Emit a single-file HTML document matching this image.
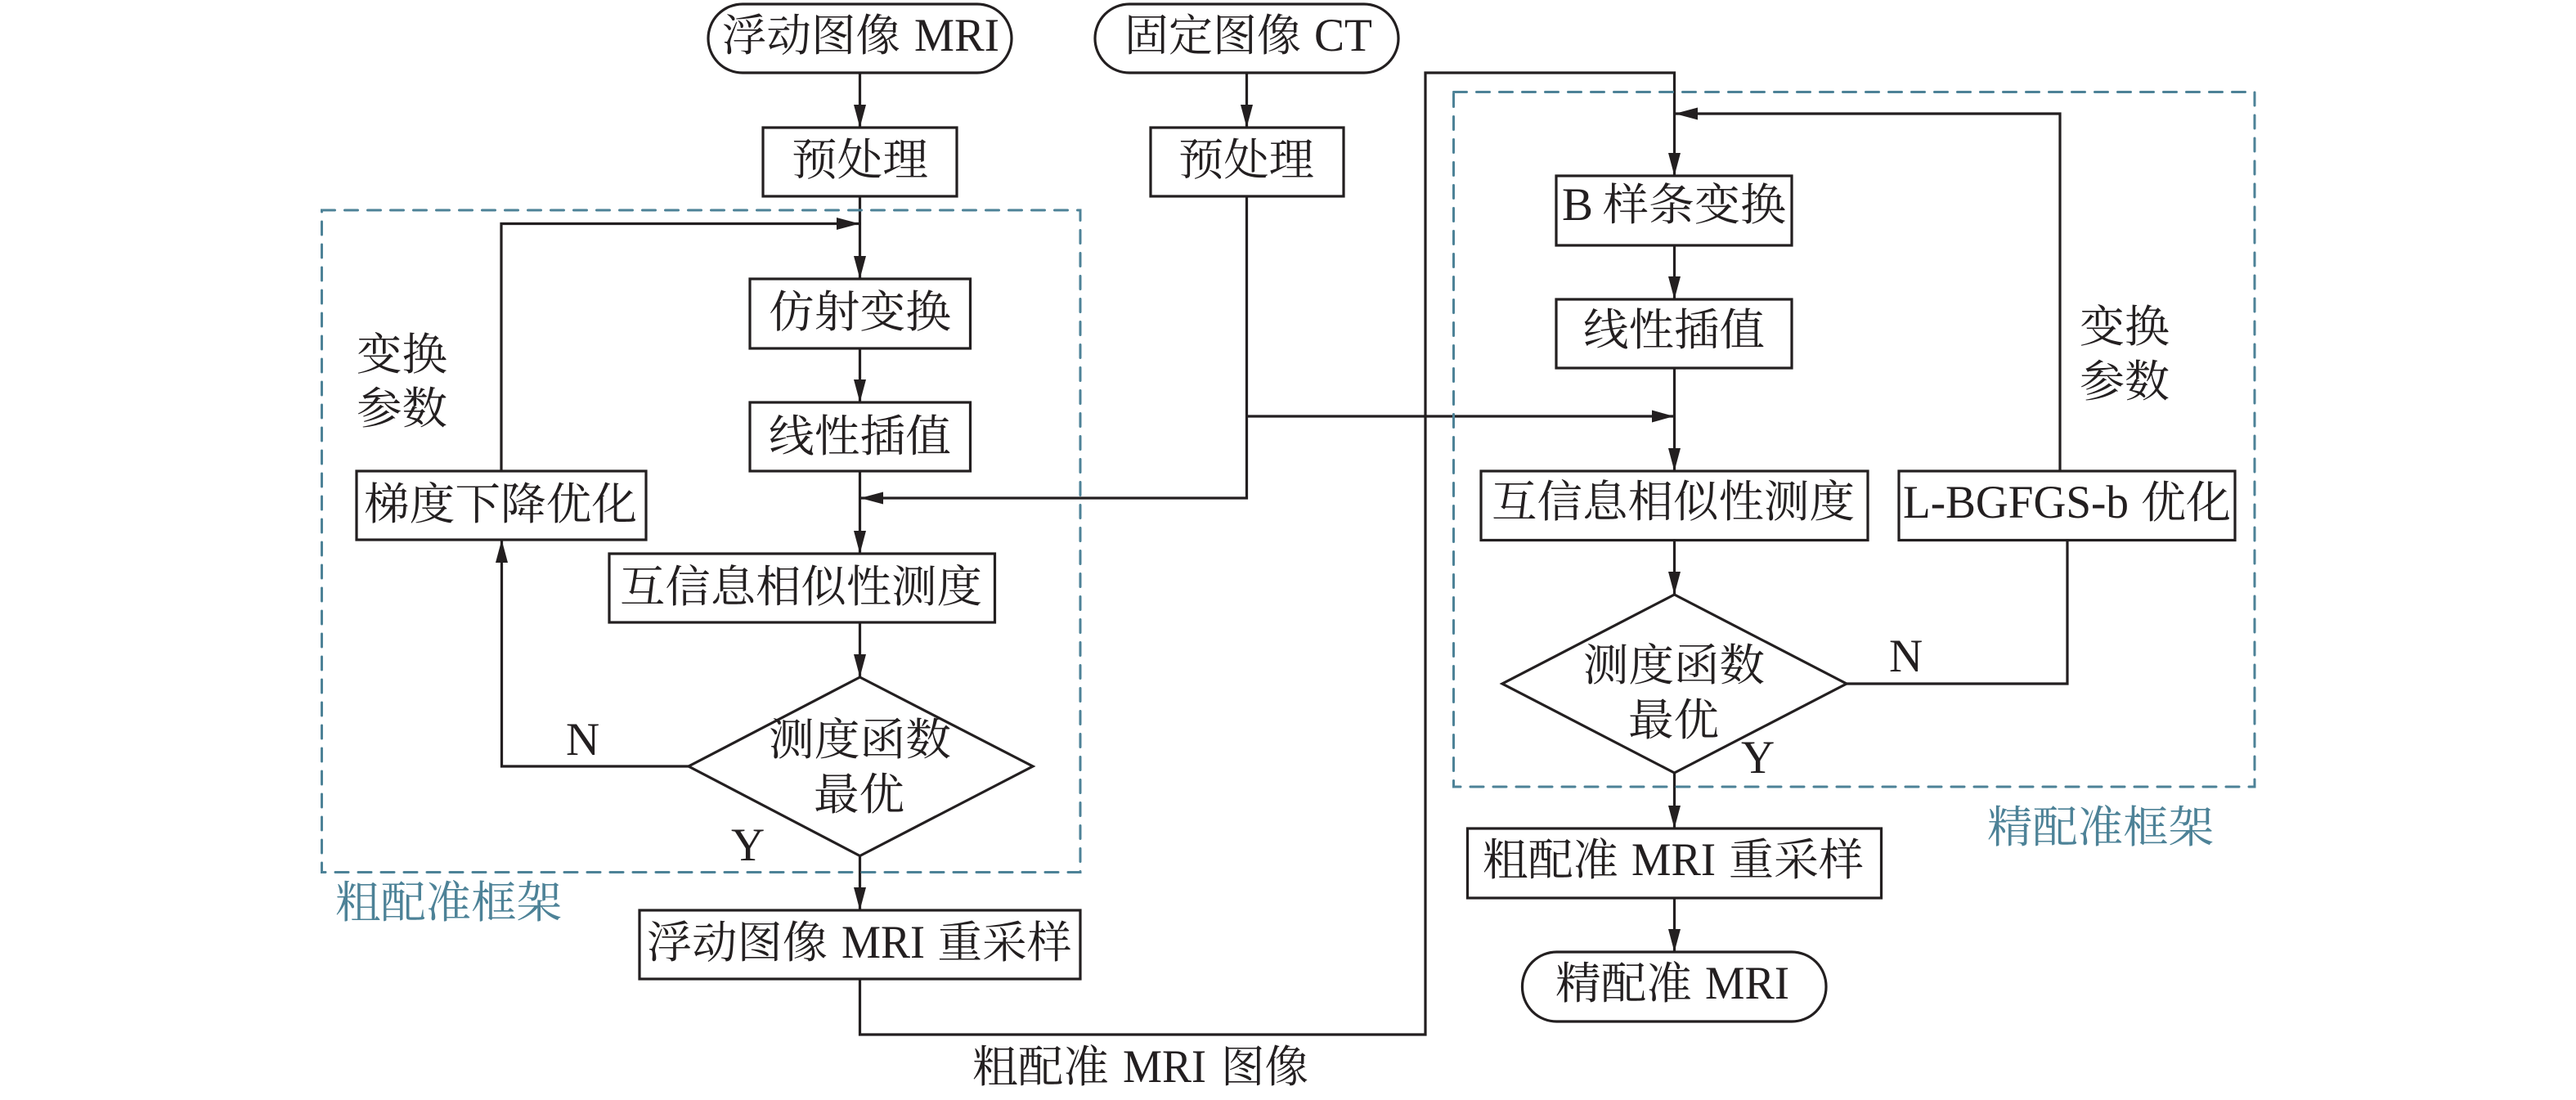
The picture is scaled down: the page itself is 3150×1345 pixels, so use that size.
<!DOCTYPE html>
<html lang="zh">
<head>
<meta charset="utf-8">
<title>配准流程图</title>
<style>
html,body{margin:0;padding:0;background:#fff;}
svg{display:block;}
text{font-family:"Liberation Serif","Noto Serif CJK SC",serif;font-size:54px;fill:#231f20;}
.m{font-size:57px;}
.t{fill:#4d8297;}
.s{fill:#fff;stroke:#231f20;stroke-width:3.2;}
.l{fill:none;stroke:#231f20;stroke-width:3.2;}
.d{fill:none;stroke:#4d8297;stroke-width:3;stroke-dasharray:16 12;stroke-linecap:round;}
.a{fill:#231f20;stroke:none;}
</style>
</head>
<body>
<svg xmlns="http://www.w3.org/2000/svg" width="3150" height="1345" viewBox="0 0 3150 1345">
<rect width="3150" height="1345" fill="#fff"/>

<!-- connectors -->
<path class="l" d="M1051.5 89V1113"/>
<path class="l" d="M1524.5 89V156"/>
<path class="l" d="M1524.5 240V609H1052"/>
<path class="l" d="M1524.5 509H2047"/>
<path class="l" d="M613 576V273.5H1051"/>
<path class="l" d="M842 937H613.5V661"/>
<path class="l" d="M1051.5 1197V1265H1743V89H2047.5V215"/>
<path class="l" d="M2047.5 300V366"/>
<path class="l" d="M2047.5 450V727"/>
<path class="l" d="M2047.5 945V1013"/>
<path class="l" d="M2047.5 1098V1164"/>
<path class="l" d="M2258 836H2528V660"/>
<path class="l" d="M2519 576V139H2048"/>

<!-- dashed frames -->
<rect class="d" x="393.5" y="257" width="927.5" height="809.5"/>
<rect class="d" x="1777.5" y="112.5" width="979.5" height="849.5"/>

<!-- shapes -->
<rect class="s" x="866" y="5" width="371" height="84" rx="42" ry="42"/>
<rect class="s" x="1339" y="5" width="371" height="84" rx="42" ry="42"/>
<rect class="s" x="933" y="156" width="237" height="84"/>
<rect class="s" x="1407" y="156" width="236" height="84"/>
<rect class="s" x="917" y="341" width="269.500" height="85"/>
<rect class="s" x="917" y="492" width="269.500" height="84"/>
<rect class="s" x="436" y="576" width="354" height="84"/>
<rect class="s" x="745" y="677" width="471.500" height="84"/>
<polygon class="s" points="1051.500,828 1263,937 1051.500,1046.500 842,937"/>
<rect class="s" x="782" y="1113" width="539" height="84"/>
<rect class="s" x="1903" y="215" width="288" height="85"/>
<rect class="s" x="1903" y="366" width="288" height="84"/>
<rect class="s" x="1811" y="576" width="473" height="84.500"/>
<rect class="s" x="2322" y="576" width="411" height="84.500"/>
<polygon class="s" points="2047.500,727 2258,836 2047.500,945 1837,836"/>
<rect class="s" x="1794.500" y="1013" width="506" height="85"/>
<rect class="s" x="1861.500" y="1164" width="371.500" height="85" rx="42" ry="42"/>

<!-- arrowheads -->
<polygon class="a" points="1044,128 1059,128 1051.500,156"/>
<polygon class="a" points="1517,128 1532,128 1524.500,156"/>
<polygon class="a" points="1044,313 1059,313 1051.500,341"/>
<polygon class="a" points="1044,464 1059,464 1051.500,492"/>
<polygon class="a" points="1044,649 1059,649 1051.500,677"/>
<polygon class="a" points="1044,800 1059,800 1051.500,828"/>
<polygon class="a" points="1044,1085 1059,1085 1051.500,1113"/>
<polygon class="a" points="2040,187 2055,187 2047.500,215"/>
<polygon class="a" points="2040,338 2055,338 2047.500,366"/>
<polygon class="a" points="2040,548 2055,548 2047.500,576"/>
<polygon class="a" points="2040,699 2055,699 2047.500,727"/>
<polygon class="a" points="2040,985 2055,985 2047.500,1013"/>
<polygon class="a" points="2040,1136 2055,1136 2047.500,1164"/>
<polygon class="a" points="606,688 621,688 613.500,660"/>
<polygon class="a" points="1023,266 1023,281 1051,273.500"/>
<polygon class="a" points="1080,601.500 1080,616.500 1052,609"/>
<polygon class="a" points="2020,501.500 2020,516.500 2047,509"/>
<polygon class="a" points="2076,131.500 2076,146.500 2048,139"/>

<!-- labels -->
<text x="883" y="62" textLength="218" lengthAdjust="spacingAndGlyphs">浮动图像</text>
<text class="m" x="1118" y="62" textLength="104" lengthAdjust="spacingAndGlyphs">MRI</text>
<text x="1375" y="62" textLength="216" lengthAdjust="spacingAndGlyphs">固定图像</text>
<text class="m" x="1607" y="62" textLength="71" lengthAdjust="spacingAndGlyphs">CT</text>
<text x="968" y="214" textLength="167" lengthAdjust="spacingAndGlyphs">预处理</text>
<text x="1441" y="214" textLength="166" lengthAdjust="spacingAndGlyphs">预处理</text>
<text x="940" y="400" textLength="223" lengthAdjust="spacingAndGlyphs">仿射变换</text>
<text x="940" y="552" textLength="223" lengthAdjust="spacingAndGlyphs">线性插值</text>
<text x="445" y="635" textLength="334" lengthAdjust="spacingAndGlyphs">梯度下降优化</text>
<text x="758" y="736" textLength="443" lengthAdjust="spacingAndGlyphs">互信息相似性测度</text>
<text x="436" y="452" textLength="111" lengthAdjust="spacingAndGlyphs">变换</text>
<text x="436" y="518" textLength="111" lengthAdjust="spacingAndGlyphs">参数</text>
<text x="940" y="923" textLength="223" lengthAdjust="spacingAndGlyphs">测度函数</text>
<text x="995" y="990" textLength="111" lengthAdjust="spacingAndGlyphs">最优</text>
<text class="m" x="692" y="923">N</text>
<text class="m" x="894" y="1052">Y</text>
<text x="791" y="1171" textLength="221" lengthAdjust="spacingAndGlyphs">浮动图像</text>
<text class="m" x="1029" y="1171" textLength="102" lengthAdjust="spacingAndGlyphs">MRI</text>
<text x="1146.500" y="1171" textLength="164" lengthAdjust="spacingAndGlyphs">重采样</text>
<text x="1189" y="1323" textLength="167" lengthAdjust="spacingAndGlyphs">粗配准</text>
<text class="m" x="1373" y="1323" textLength="102" lengthAdjust="spacingAndGlyphs">MRI</text>
<text x="1493" y="1323" textLength="107" lengthAdjust="spacingAndGlyphs">图像</text>
<text class="t" x="410" y="1122" textLength="277" lengthAdjust="spacingAndGlyphs">粗配准框架</text>
<text class="m" x="1910" y="269">B</text>
<text x="1960" y="269" textLength="224" lengthAdjust="spacingAndGlyphs">样条变换</text>
<text x="1936" y="422" textLength="222" lengthAdjust="spacingAndGlyphs">线性插值</text>
<text x="1824" y="632" textLength="444" lengthAdjust="spacingAndGlyphs">互信息相似性测度</text>
<text class="m" x="2327" y="633" textLength="276" lengthAdjust="spacingAndGlyphs">L-BGFGS-b</text>
<text x="2618" y="633" textLength="110" lengthAdjust="spacingAndGlyphs">优化</text>
<text x="2543" y="418" textLength="110" lengthAdjust="spacingAndGlyphs">变换</text>
<text x="2543" y="485" textLength="110" lengthAdjust="spacingAndGlyphs">参数</text>
<text x="1936" y="832" textLength="222" lengthAdjust="spacingAndGlyphs">测度函数</text>
<text x="1991" y="899" textLength="111" lengthAdjust="spacingAndGlyphs">最优</text>
<text class="m" x="2310" y="821">N</text>
<text class="m" x="2129" y="945">Y</text>
<text class="t" x="2430" y="1030" textLength="277" lengthAdjust="spacingAndGlyphs">精配准框架</text>
<text x="1813" y="1070" textLength="166" lengthAdjust="spacingAndGlyphs">粗配准</text>
<text class="m" x="1995" y="1070" textLength="103" lengthAdjust="spacingAndGlyphs">MRI</text>
<text x="2114" y="1070" textLength="165" lengthAdjust="spacingAndGlyphs">重采样</text>
<text x="1902" y="1221" textLength="167" lengthAdjust="spacingAndGlyphs">精配准</text>
<text class="m" x="2085" y="1221" textLength="103" lengthAdjust="spacingAndGlyphs">MRI</text>
</svg>
</body>
</html>
